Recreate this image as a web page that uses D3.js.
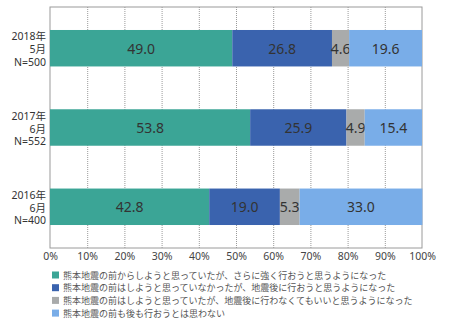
<!DOCTYPE html>
<html>
<head>
<meta charset="utf-8">
<script src="https://cdn.jsdelivr.net/npm/d3@7"></script>
<style>
  html, body { margin: 0; padding: 0; background: #ffffff; }
  svg { display: block; font-family: "Noto Sans", "Noto Sans CJK JP", sans-serif; }
</style>
</head>
<body>
<svg id="chart" width="450" height="326"></svg>
<script>
// Survey waves (rows, top to bottom)
const waveYears = ["2018年", "2017年", "2016年"];
const waveMonths = ["5月", "6月", "6月"];
const waveSizes = ["N=500", "N=552", "N=400"];

// Answer categories (stack order, left to right)
const seriesNames = [
  "熊本地震の前からしようと思っていたが、さらに強く行おうと思うようになった",
  "熊本地震の前はしようと思っていなかったが、地震後に行おうと思うようになった",
  "熊本地震の前はしようと思っていたが、地震後に行わなくてもいいと思うようになった",
  "熊本地震の前も後も行おうとは思わない"
];
const seriesColors = ["#3ba596", "#3a63ae", "#a9abab", "#79ade8"];

// Percentages per wave, one array per answer
const strongerValues = [49.0, 53.8, 42.8];
const newlyValues = [26.8, 25.9, 19.0];
const lessValues = [4.6, 4.9, 5.3];
const neverValues = [19.6, 15.4, 33.0];

const xTicks = [0, 10, 20, 30, 40, 50, 60, 70, 80, 90, 100];

const seriesValues = [strongerValues, newlyValues, lessValues, neverValues];
const rows = waveYears.map((y, i) => {
  const row = { key: y + waveMonths[i], year: y, month: waveMonths[i], n: waveSizes[i] };
  seriesValues.forEach((vals, s) => { row["s" + s] = vals[i]; });
  return row;
});
const keys = seriesValues.map((_, s) => "s" + s);

const svg = d3.select("#chart");
const plot = { left: 50, right: 422, top: 7, bottom: 248 };

const x = d3.scaleLinear().domain([0, 100]).range([plot.left, plot.right]);
const y = d3.scaleBand()
  .domain(rows.map(r => r.key))
  .range([plot.top, plot.bottom])
  .paddingInner(0.54)
  .paddingOuter(0.29);

// Dotted vertical gridlines
svg.append("g")
  .attr("transform", `translate(0,${plot.bottom})`)
  .call(d3.axisBottom(x).tickValues(xTicks.slice(1, -1)).tickSize(-(plot.bottom - plot.top)).tickFormat(""))
  .call(g => g.select(".domain").remove())
  .call(g => g.selectAll("line").attr("stroke", "#9a9a9a").attr("stroke-dasharray", "1,1"));

// Plot frame
svg.append("rect")
  .attr("x", plot.left).attr("y", plot.top)
  .attr("width", plot.right - plot.left).attr("height", plot.bottom - plot.top)
  .attr("fill", "none").attr("stroke", "#9a9a9a").attr("stroke-width", 1);

// Stacked bars
const stacked = d3.stack().keys(keys)(rows);
const layers = svg.append("g").selectAll("g")
  .data(stacked)
  .join("g")
  .attr("fill", (d, i) => seriesColors[i]);

layers.selectAll("rect")
  .data(d => d)
  .join("rect")
  .attr("x", d => x(d[0]))
  .attr("y", d => y(d.data.key))
  .attr("width", d => x(d[1]) - x(d[0]))
  .attr("height", y.bandwidth());

// Value labels
layers.selectAll("text")
  .data(d => d.map(p => ({ p, key: d.key })))
  .join("text")
  .attr("x", d => (x(d.p[0]) + x(d.p[1])) / 2)
  .attr("y", d => y(d.p.data.key) + y.bandwidth() / 2)
  .attr("text-anchor", "middle")
  .attr("dominant-baseline", "central")
  .attr("fill", "#333333")
  .attr("font-size", 14)
  .text(d => d3.format(".1f")(d.p.data[d.key]));

// Wave labels on the left
const cat = svg.append("g").selectAll("text")
  .data(rows)
  .join("text")
  .attr("text-anchor", "end")
  .attr("font-size", 10.5)
  .attr("fill", "#333333");
[["year", -12], ["month", 1], ["n", 13.5]].forEach(([field, dy]) => {
  cat.append("tspan")
    .attr("x", 46)
    .attr("y", d => y(d.key) + y.bandwidth() / 2 + dy)
    .attr("dominant-baseline", "central")
    .text(d => d[field]);
});

// X axis labels
svg.append("g")
  .attr("transform", `translate(0,${plot.bottom})`)
  .call(d3.axisBottom(x).tickValues(xTicks).tickSize(0).tickPadding(5).tickFormat(d => d + "%"))
  .call(g => g.select(".domain").remove())
  .call(g => g.selectAll("text")
    .attr("font-size", 10.5)
    .attr("fill", "#444444")
    .attr("font-family", "\"Noto Sans\", sans-serif"));

// Legend
const legend = svg.append("g").selectAll("g")
  .data(seriesNames)
  .join("g")
  .attr("transform", (d, i) => `translate(52,${275 + i * 12.7})`);
legend.append("rect")
  .attr("x", 0).attr("y", -3.5)
  .attr("width", 7).attr("height", 7)
  .attr("fill", (d, i) => seriesColors[i]);
legend.append("text")
  .attr("x", 11)
  .attr("y", 0)
  .attr("dominant-baseline", "central")
  .attr("font-size", 9)
  .attr("fill", "#555555")
  .attr("font-family", "\"Noto Sans CJK JP\", sans-serif")
  .text(d => d);
</script>
</body>
</html>
